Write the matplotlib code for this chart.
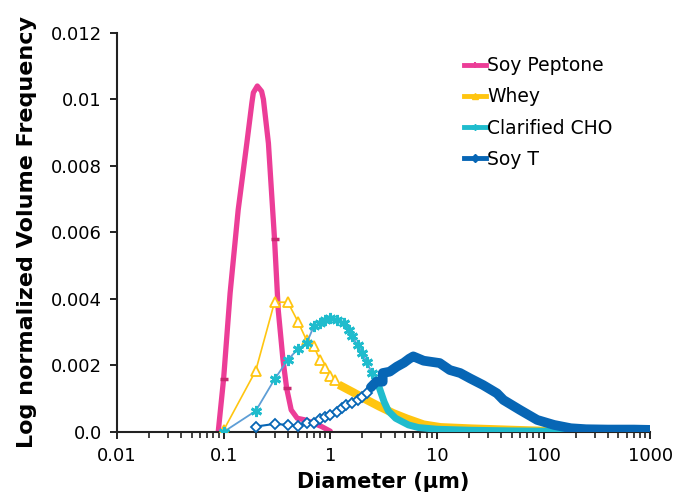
import matplotlib
matplotlib.use("Agg")
import matplotlib.pyplot as plt
from matplotlib.lines import Line2D
from matplotlib.ticker import FixedLocator, FixedFormatter, LogLocator, NullFormatter
import numpy as np

# Diameter (um) and log-normalized volume frequency (x 1e-3)
soy_peptone_x = [0.089, 0.1, 0.115, 0.137, 0.165, 0.184, 0.19, 0.207, 0.227, 0.236, 0.263, 0.3,
                 0.325, 0.36, 0.39, 0.43, 0.49, 0.58, 0.7, 0.83, 1.0]
soy_peptone_y = [0.0, 1.6, 4.17, 6.68, 8.68, 9.89, 10.2, 10.4, 10.24, 10.0, 8.68, 5.8,
                 3.67, 2.17, 1.31, 0.66, 0.41, 0.36, 0.26, 0.16, 0.02]

whey_x = [0.1, 0.2, 0.3, 0.4, 0.5, 0.6, 0.7, 0.8, 0.9, 1.0, 1.1, 1.3, 1.66, 2.2,
          2.9, 3.9, 5.2, 7.5, 10.8, 21, 50, 100, 200, 500, 1000]
whey_y = [0.05, 1.84, 3.9, 3.9, 3.3, 2.75, 2.57, 2.17, 1.92, 1.68, 1.56, 1.36, 1.18, 0.96,
          0.76, 0.56, 0.4, 0.22, 0.14, 0.1, 0.06, 0.03, 0.015, 0.005, 0.0]

cho_x = [0.1, 0.2, 0.3, 0.4, 0.5, 0.6, 0.7, 0.8, 0.9, 1.0, 1.15, 1.33, 1.5, 1.6, 1.8,
         2.0, 2.2, 2.45, 2.9, 3.2, 3.5, 4.1, 4.7, 5.4, 6.7, 10, 20, 50, 100, 200, 300]
cho_y = [0.0, 0.63, 1.58, 2.17, 2.5, 2.67, 3.17, 3.27, 3.37, 3.42, 3.37, 3.27, 3.07, 2.87, 2.62,
         2.37, 2.11, 1.77, 1.3, 0.9, 0.63, 0.41, 0.31, 0.21, 0.13, 0.08, 0.05, 0.03, 0.02, 0.01, 0.0]

soy_t_x = [0.2, 0.3, 0.4, 0.5, 0.6, 0.7, 0.8, 0.9, 1.0, 1.15, 1.3, 1.4, 1.6, 1.8, 2.0, 2.2,
           2.4, 2.7, 3.1, 3.1, 3.6, 4.2, 4.9, 5.5, 6.0, 7.5, 10.6, 13.2, 16.5, 20.4, 27, 36.5,
           42, 60, 87, 125, 180, 250, 400, 700, 1000]
soy_t_y = [0.16, 0.24, 0.21, 0.19, 0.28, 0.26, 0.38, 0.46, 0.51, 0.61, 0.71, 0.81, 0.86, 0.96, 1.06, 1.16,
           1.34, 1.51, 1.51, 1.77, 1.81, 1.96, 2.08, 2.2, 2.27, 2.14, 2.07, 1.86, 1.77, 1.61, 1.41, 1.16,
           0.96, 0.66, 0.36, 0.21, 0.11, 0.08, 0.07, 0.07, 0.06]

y_ticks = [0, 0.002, 0.004, 0.006, 0.008, 0.01, 0.012]
y_tick_labels = ["0.0", "0.002", "0.004", "0.006", "0.008", "0.01", "0.012"]
x_ticks = [0.01, 0.1, 1, 10, 100, 1000]
x_tick_labels = ["0.01", "0.1", "1", "10", "100", "1000"]

pink = "#EC3D97"
gold = "#FFC510"
teal = "#1FBCCD"
teal_line = "#5E9ED6"
blue = "#0766B5"

plt.rcParams["font.family"] = "DejaVu Sans"

fig = plt.figure(figsize=(6.76, 4.97), dpi=100)
ax = fig.add_axes([0.173, 0.131, 0.789, 0.803])


def arr(x, y):
    return np.array(x), np.array(y) * 1e-3


# Soy Peptone
px, py = arr(soy_peptone_x, soy_peptone_y)
ax.plot(px, py, color=pink, lw=3.8, solid_capstyle="round", solid_joinstyle="round", zorder=2)
ax.plot(px[[1, 11, 14]], py[[1, 11, 14]], ls="none", marker="_", ms=6, mew=2.5,
        color="#C8286F", zorder=2)

# Whey
wx, wy = arr(whey_x, whey_y)
dense = wx >= 1.25
ax.plot(wx, wy, color=gold, lw=1.2, zorder=3)
ax.plot(wx[dense], wy[dense], color=gold, lw=6, zorder=3)
ax.plot(wx[~dense], wy[~dense], ls="none", marker="^", ms=7.5, mfc="white", mec=gold,
        mew=1.3, zorder=3)

# Clarified CHO
cx, cy = arr(cho_x, cho_y)
dense = cx >= 2.9
ax.plot(cx, cy, color=teal_line, lw=1.3, zorder=4)
ax.plot(cx[dense], cy[dense], color=teal, lw=5, zorder=4)
ax.plot(cx[~dense], cy[~dense], ls="none", marker=(6, 2, 0), ms=8, mec=teal, mew=2,
        zorder=4)

# Soy T
tx, ty = arr(soy_t_x, soy_t_y)
dense = tx >= 2.4
ax.plot(tx, ty, color=blue, lw=1.5, zorder=5)
ax.plot(tx[dense], ty[dense], color=blue, lw=7, solid_capstyle="round", zorder=5)
ax.plot(tx[~dense], ty[~dense], ls="none", marker="D", ms=5, mfc="white", mec=blue,
        mew=1.3, zorder=5)

ax.set_xscale("log")
ax.set_xlim(0.01, 1000)
ax.set_ylim(0, 0.012)
ax.xaxis.set_major_locator(FixedLocator(x_ticks))
ax.xaxis.set_major_formatter(FixedFormatter(x_tick_labels))
ax.xaxis.set_minor_locator(LogLocator(base=10, subs=np.arange(2, 10)))
ax.xaxis.set_minor_formatter(NullFormatter())
ax.yaxis.set_major_locator(FixedLocator(y_ticks))
ax.yaxis.set_major_formatter(FixedFormatter(y_tick_labels))

for side in ["top", "right"]:
    ax.spines[side].set_visible(False)
for side in ["left", "bottom"]:
    ax.spines[side].set_linewidth(1.5)
    ax.spines[side].set_color("#222222")
ax.tick_params(axis="both", which="major", direction="out", length=5, width=1.4,
               color="#222222", labelsize=13, pad=6)
ax.tick_params(axis="x", which="minor", direction="out", length=4, width=1.2,
               color="#222222")

ax.set_xlabel("Diameter (µm)", fontsize=15, fontweight="bold", labelpad=5)
ax.set_ylabel("Log normalized Volume Frequency", fontsize=16, fontweight="bold", labelpad=10)

handles = [
    Line2D([], [], color=pink, lw=3.5, marker="|", ms=5, mew=1.5),
    Line2D([], [], color=gold, lw=3.5, marker="^", ms=5),
    Line2D([], [], color=teal, lw=3.5, marker=(6, 2, 0), ms=5),
    Line2D([], [], color=blue, lw=3.5, marker="D", ms=4),
]
labels = ["Soy Peptone", "Whey", "Clarified CHO", "Soy T"]
fig.legend(handles, labels, loc="upper left", bbox_to_anchor=(0.675, 0.902),
           frameon=False, fontsize=13.5, handlelength=1.2, handletextpad=0.05,
           labelspacing=0.65, borderaxespad=0)

fig.savefig("out.png", dpi=100)
